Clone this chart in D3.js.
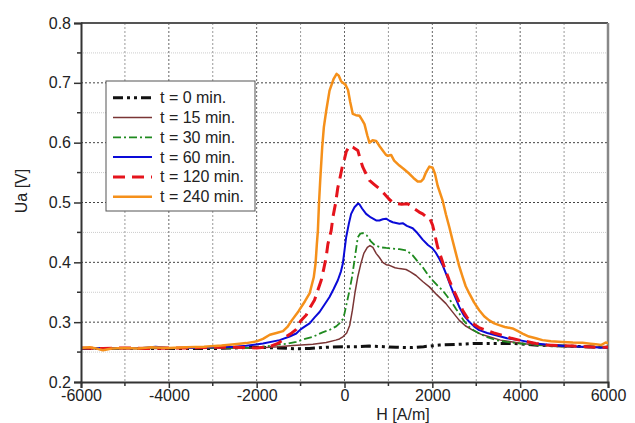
<!DOCTYPE html>
<html><head><meta charset="utf-8">
<script src="https://cdn.jsdelivr.net/npm/d3@7"></script>
<style>
html,body{margin:0;padding:0;background:#fff;}
svg{display:block;font-family:"Liberation Sans",Arial,sans-serif;}
</style></head>
<body><svg id="c" width="635" height="423"></svg>
<script>
// ---- data (H [A/m], Ua [V]) ----
const seriesNames = ["t = 0 min.","t = 15 min.","t = 30 min.","t = 60 min.","t = 120 min.","t = 240 min."];
const xTicks = [-6000,-4000,-2000,0,2000,4000,6000];
const yTicks = [0.2,0.3,0.4,0.5,0.6,0.7,0.8];

const t0 = [[-6000,0.256],[-5000,0.256],[-4000,0.256],[-3000,0.256],[-2000,0.258],[-1500,0.257],[-1136,0.2555],[-800,0.256],[-417,0.258],[-38,0.259],[300,0.259],[568,0.260],[900,0.259],[1174,0.258],[1500,0.2575],[1800,0.259],[2159,0.2617],[2600,0.263],[2992,0.2645],[3400,0.2645],[3826,0.2645],[4100,0.263],[4400,0.2615],[5000,0.260],[5500,0.259],[6000,0.258]];

const t15 = [[-6000,0.256],[-5000,0.256],[-4000,0.256],[-3000,0.257],[-2000,0.257],[-1500,0.259],[-1174,0.261],[-720,0.263],[-417,0.266],[-200,0.270],[-114,0.272],[-30,0.276],[50,0.282],[120,0.295],[180,0.320],[240,0.350],[300,0.375],[370,0.397],[440,0.415],[520,0.425],[580,0.428],[646,0.425],[720,0.415],[795,0.408],[870,0.400],[950,0.396],[1023,0.395],[1150,0.391],[1250,0.3895],[1402,0.388],[1500,0.384],[1629,0.378],[1780,0.368],[1932,0.359],[2100,0.346],[2311,0.331],[2450,0.318],[2614,0.303],[2750,0.294],[2917,0.2867],[3100,0.280],[3295,0.2755],[3550,0.270],[3826,0.267],[4100,0.264],[4356,0.2617],[4800,0.260],[5300,0.259],[6000,0.258]];

const t30 = [[-6000,0.256],[-5000,0.256],[-4000,0.257],[-3000,0.257],[-2500,0.257],[-2000,0.257],[-1856,0.259],[-1553,0.262],[-1300,0.264],[-1098,0.267],[-900,0.272],[-720,0.2755],[-500,0.283],[-341,0.287],[-189,0.293],[-114,0.298],[-38,0.305],[0,0.3145],[60,0.335],[114,0.353],[170,0.375],[227,0.403],[270,0.425],[303,0.442],[360,0.448],[417,0.449],[508,0.445],[600,0.435],[700,0.428],[831,0.425],[950,0.424],[1100,0.423],[1250,0.422],[1402,0.420],[1480,0.416],[1553,0.4117],[1660,0.402],[1780,0.392],[1900,0.379],[2007,0.370],[2120,0.361],[2235,0.353],[2350,0.342],[2462,0.331],[2540,0.322],[2614,0.3145],[2720,0.302],[2841,0.292],[2950,0.286],[3068,0.281],[3250,0.275],[3447,0.270],[3700,0.267],[3977,0.2645],[4300,0.262],[4700,0.260],[5200,0.259],[5600,0.258],[6000,0.258]];

const t60 = [[-6000,0.256],[-5500,0.257],[-5000,0.256],[-4600,0.257],[-4300,0.259],[-4000,0.257],[-3500,0.257],[-3000,0.258],[-2500,0.259],[-2235,0.2605],[-1856,0.2645],[-1477,0.270],[-1250,0.276],[-1098,0.281],[-1000,0.288],[-900,0.293],[-795,0.298],[-680,0.308],[-568,0.317],[-450,0.330],[-341,0.342],[-250,0.355],[-152,0.370],[-80,0.385],[-38,0.398],[0,0.420],[38,0.442],[100,0.465],[151,0.481],[227,0.492],[303,0.498],[340,0.497],[400,0.490],[492,0.481],[600,0.475],[720,0.470],[795,0.470],[870,0.472],[947,0.473],[1023,0.4695],[1098,0.467],[1250,0.4645],[1326,0.4655],[1420,0.461],[1553,0.457],[1660,0.449],[1780,0.438],[1900,0.429],[2007,0.423],[2080,0.416],[2159,0.406],[2240,0.394],[2311,0.381],[2424,0.359],[2520,0.342],[2614,0.3255],[2720,0.311],[2841,0.3005],[2950,0.293],[3068,0.2867],[3250,0.282],[3447,0.278],[3700,0.273],[3977,0.270],[4356,0.2645],[4700,0.262],[5000,0.260],[5400,0.259],[5700,0.258],[6000,0.257]];

const t120 = [[-6000,0.257],[-5500,0.256],[-5000,0.257],[-4500,0.256],[-4000,0.257],[-3500,0.257],[-3000,0.258],[-2500,0.258],[-2000,0.257],[-1705,0.259],[-1500,0.265],[-1326,0.276],[-1200,0.282],[-1098,0.288],[-1000,0.302],[-871,0.312],[-780,0.325],[-682,0.337],[-600,0.355],[-530,0.370],[-470,0.390],[-417,0.409],[-379,0.430],[-303,0.453],[-265,0.475],[-205,0.498],[-152,0.525],[-114,0.537],[-50,0.560],[0,0.573],[40,0.585],[114,0.595],[200,0.592],[303,0.587],[360,0.572],[417,0.559],[490,0.548],[568,0.537],[680,0.530],[795,0.523],[900,0.515],[1023,0.505],[1120,0.499],[1212,0.498],[1300,0.497],[1439,0.498],[1520,0.494],[1591,0.4895],[1700,0.484],[1780,0.481],[1860,0.476],[1932,0.4755],[2007,0.462],[2060,0.445],[2121,0.4255],[2200,0.408],[2273,0.392],[2386,0.370],[2460,0.357],[2538,0.345],[2610,0.333],[2689,0.320],[2800,0.307],[2917,0.298],[3060,0.291],[3220,0.2867],[3400,0.282],[3598,0.278],[3800,0.273],[3977,0.270],[4200,0.267],[4356,0.2645],[4600,0.262],[4900,0.261],[5200,0.260],[5500,0.259],[5800,0.258],[6000,0.258]];

const t240 = [[-6000,0.257],[-5800,0.258],[-5600,0.255],[-5500,0.253],[-5300,0.256],[-5000,0.257],[-4700,0.256],[-4400,0.258],[-4000,0.257],[-3600,0.258],[-3200,0.259],[-2800,0.261],[-2500,0.263],[-2235,0.265],[-2000,0.268],[-1856,0.272],[-1700,0.279],[-1550,0.282],[-1400,0.285],[-1300,0.292],[-1200,0.303],[-1050,0.318],[-900,0.335],[-795,0.348],[-700,0.375],[-659,0.398],[-630,0.430],[-606,0.453],[-580,0.500],[-553,0.537],[-508,0.592],[-470,0.626],[-417,0.653],[-341,0.687],[-250,0.706],[-180,0.715],[-130,0.712],[-80,0.703],[-38,0.700],[20,0.697],[80,0.688],[130,0.668],[189,0.648],[260,0.646],[341,0.645],[400,0.638],[455,0.631],[520,0.612],[568,0.600],[640,0.604],[720,0.603],[800,0.594],[871,0.587],[940,0.580],[985,0.578],[1061,0.5795],[1130,0.570],[1250,0.5617],[1350,0.556],[1477,0.548],[1570,0.541],[1667,0.535],[1742,0.535],[1800,0.540],[1856,0.5505],[1932,0.560],[2007,0.558],[2060,0.548],[2121,0.528],[2235,0.503],[2310,0.480],[2386,0.459],[2460,0.437],[2538,0.4145],[2610,0.394],[2689,0.3755],[2760,0.360],[2841,0.348],[2950,0.333],[3068,0.320],[3180,0.310],[3295,0.303],[3410,0.298],[3523,0.295],[3650,0.292],[3826,0.2895],[3950,0.285],[4053,0.281],[4200,0.276],[4356,0.273],[4508,0.270],[4700,0.268],[4962,0.267],[5200,0.266],[5417,0.2655],[5600,0.264],[5720,0.263],[5850,0.262],[5947,0.266],[6000,0.265]];

const seriesData = [t0,t15,t30,t60,t120,t240];

// ---- styles ----
const styles = [
  {color:"#111111", width:3,   dash:"10,4,3,4,3,4"},
  {color:"#7a3535", width:1.5, dash:null},
  {color:"#1f8a1f", width:1.8, dash:"8,3,2,3"},
  {color:"#0a0ad8", width:2,   dash:null},
  {color:"#e5141c", width:3,   dash:"12,7"},
  {color:"#f5901a", width:2.5, dash:null}
];

const svg = d3.select("#c");
const L = 81, R = 608, T = 23, B = 382;
const x = d3.scaleLinear().domain([-6000,6000]).range([L,R]);
const y = d3.scaleLinear().domain([0.2,0.8]).range([B,T]);

// grid
const g = svg.append("g");
d3.range(-5000,6000,1000).forEach(v=>{
  g.append("line").attr("x1",x(v)).attr("x2",x(v)).attr("y1",T).attr("y2",B)
   .attr("stroke",v%2000===0?"#666":"#999").attr("stroke-width",1).attr("stroke-dasharray","2,2");
});
d3.range(0.25,0.78,0.05).forEach(v=>{
  const major = Math.abs(Math.round(v*10)-v*10)<1e-6;
  g.append("line").attr("x1",L).attr("x2",R).attr("y1",y(v)).attr("y2",y(v))
   .attr("stroke",major?"#444":"#ccc").attr("stroke-width",1).attr("stroke-dasharray",major?"2,2":"1,1");
});

// border top / right
svg.append("line").attr("x1",L).attr("x2",R).attr("y1",T).attr("y2",T).attr("stroke","#555").attr("stroke-width",2);
svg.append("line").attr("x1",R).attr("x2",R).attr("y1",T).attr("y2",B).attr("stroke","#888").attr("stroke-width",2.5);

// lines
const line = d3.line().x(d=>x(d[0])).y(d=>y(d[1]));
svg.append("clipPath").attr("id","pc").append("rect").attr("x",L).attr("y",T).attr("width",R-L).attr("height",B-T);
const lg = svg.append("g").attr("clip-path","url(#pc)");
seriesData.forEach((d,i)=>{
  const s = styles[i];
  lg.append("path").attr("d",line(d)).attr("fill","none")
    .attr("stroke",s.color).attr("stroke-width",s.width)
    .attr("stroke-dasharray",s.dash).attr("stroke-linejoin","round");
});

// axes
const yAxis = d3.axisLeft(y).tickValues(yTicks).tickSize(7).tickPadding(3).tickFormat(d3.format(".1f"));
const ya = svg.append("g").attr("transform",`translate(${L},0)`).call(yAxis);
const xAxis = d3.axisBottom(x).tickValues(xTicks).tickSize(6).tickPadding(2).tickFormat(d=>d3.format("d")(d));
const xa = svg.append("g").attr("transform",`translate(0,${B})`).call(xAxis);
[ya,xa].forEach(a=>{
  a.select(".domain").attr("stroke","#333").attr("stroke-width",2);
  a.selectAll(".tick line").attr("stroke","#333").attr("stroke-width",1.5);
  a.selectAll("text").attr("font-size",16).attr("fill","#222").attr("font-family","Liberation Sans, Arial, sans-serif");
});
xa.selectAll("text").text(d=>d<0?"-"+Math.abs(d):d);
// minor ticks
d3.range(0.25,0.8,0.1).forEach(v=>{
  svg.append("line").attr("x1",L-4).attr("x2",L).attr("y1",y(v)).attr("y2",y(v)).attr("stroke","#333").attr("stroke-width",1.5);
});
d3.range(-5000,6000,2000).forEach(v=>{
  svg.append("line").attr("x1",x(v)).attr("x2",x(v)).attr("y1",B).attr("y2",B+4).attr("stroke","#333").attr("stroke-width",1.5);
});

// axis titles
svg.append("text").attr("transform","translate(27,191) rotate(-90)").attr("text-anchor","middle")
  .attr("font-size",16).attr("fill","#222").text("Ua [V]");
svg.append("text").attr("x",403).attr("y",419.5).attr("text-anchor","middle")
  .attr("font-size",16).attr("fill","#222").text("H [A/m]");

// legend
const leg = svg.append("g");
leg.append("rect").attr("x",106).attr("y",81).attr("width",149).attr("height",130)
  .attr("fill","#fff").attr("stroke","#555").attr("stroke-width",1);
seriesNames.forEach((n,i)=>{
  const cy = 97.7 + i*19.8;
  const s = styles[i];
  leg.append("line").attr("x1",113).attr("x2",152).attr("y1",cy).attr("y2",cy)
    .attr("stroke",s.color).attr("stroke-width",s.width).attr("stroke-dasharray",s.dash);
  leg.append("text").attr("x",160).attr("y",cy+5.5).attr("font-size",16).attr("fill","#222").text(n);
});
</script>
</body></html>
